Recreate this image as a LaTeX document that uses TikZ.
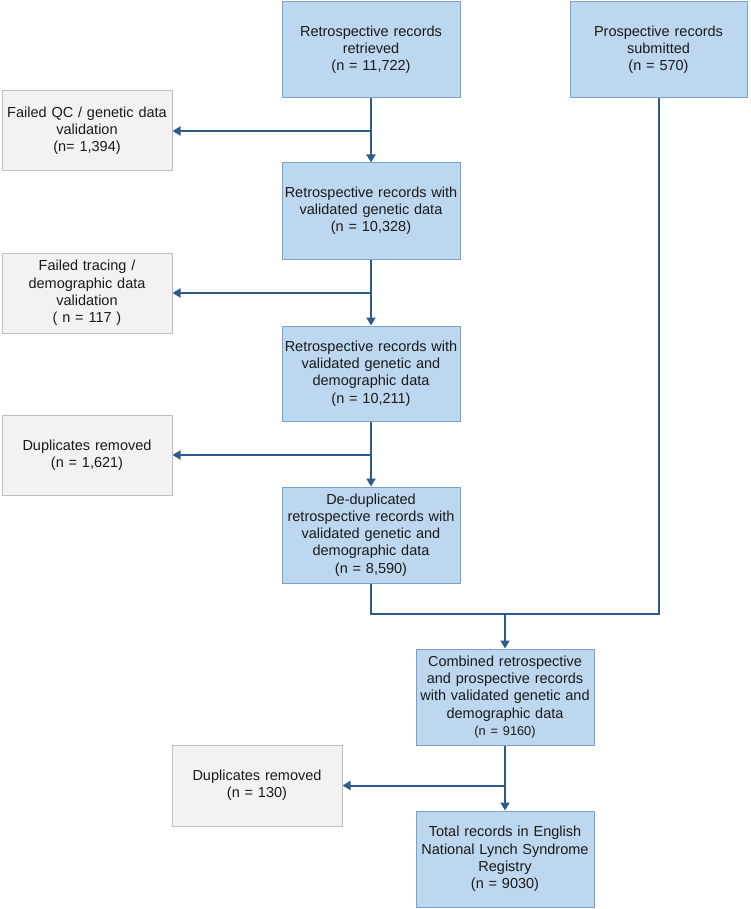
\documentclass[tikz,border=0pt]{standalone}
\usepackage{fontspec}
\setmainfont{Liberation Sans}
\usetikzlibrary{arrows.meta}
\definecolor{bfill}{HTML}{BDD7EE}
\definecolor{bline}{HTML}{7AA2CB}
\definecolor{gfill}{HTML}{F2F2F2}
\definecolor{gline}{HTML}{BFBFBF}
\definecolor{arrc}{HTML}{2C5C8C}
\definecolor{txt}{HTML}{1A1A1A}
\tikzset{
  bluebox/.style={draw=bline, fill=bfill, line width=1pt, minimum width=178pt, minimum height=96pt,
    text width=176pt, align=center, inner sep=0pt, text=txt, font=\fontsize{14.5}{17.2}\selectfont},
  greybox/.style={draw=gline, fill=gfill, line width=1pt, minimum width=170pt, minimum height=80pt,
    text width=168pt, align=center, inner sep=0pt, text=txt, font=\fontsize{14.5}{17.2}\selectfont},
  arr/.style={draw=arrc, line width=2pt, -{Triangle[length=8pt,width=9pt]}},
  ln/.style={draw=arrc, line width=2pt},
}
\begin{document}
\begin{tikzpicture}[x=1pt,y=-1pt]
\useasboundingbox (0,0) rectangle (750,909);
\node[bluebox] (b1) at (371,50) {Retrospective records\\retrieved\\(n = 11,722)};
\node[bluebox, minimum width=177pt] (pr) at (658.5,50) {Prospective records\\submitted\\(n = 570)};
\node[greybox] (fqc) at (87,131) {Failed QC / genetic data\\validation\\(n= 1,394)};
\node[bluebox] (b2) at (371,211) {Retrospective records with\\validated genetic data\\(n = 10,328)};
\node[greybox] (ftr) at (87,293) {Failed tracing /\\demographic data\\validation\\( n = 117 )};
\node[bluebox, minimum height=95pt] (b3) at (371,373.5) {Retrospective records with\\validated genetic and\\demographic data\\(n = 10,211)};
\node[greybox] (dup1) at (87,455) {Duplicates removed\\(n = 1,621)};
\node[bluebox] (b4) at (371,535) {De-duplicated\\retrospective records with\\validated genetic and\\demographic data\\(n = 8,590)};
\node[bluebox] (b5) at (505,697) {Combined retrospective\\and prospective records\\with validated genetic and\\demographic data\\{\fontsize{12.8}{17.2}\selectfont(n = 9160)}};
\node[greybox, minimum height=81pt] (dup2) at (257,785.5) {Duplicates removed\\(n = 130)};
\node[bluebox] (b6) at (505,859) {Total records in English\\National Lynch Syndrome\\Registry\\(n = 9030)};

\draw[arr] (b1) -- (b2);
\draw[arr] (b1.south |- fqc.east) -- (fqc.east);
\draw[arr] (b2) -- (b3);
\draw[arr] (b2.south |- ftr.east) -- (ftr.east);
\draw[arr] (b3) -- (b4);
\draw[arr] (b3.south |- dup1.east) -- (dup1.east);
\coordinate (mj) at (505,614);
\draw[ln] (b4.south) -- (b4.south |- mj) -- (pr.south |- mj) -- (pr.south);
\draw[arr] (mj) -- (b5.north);
\draw[arr] (b5) -- (b6);
\draw[arr] (b5.south |- dup2.east) -- (dup2.east);
\end{tikzpicture}
\end{document}
